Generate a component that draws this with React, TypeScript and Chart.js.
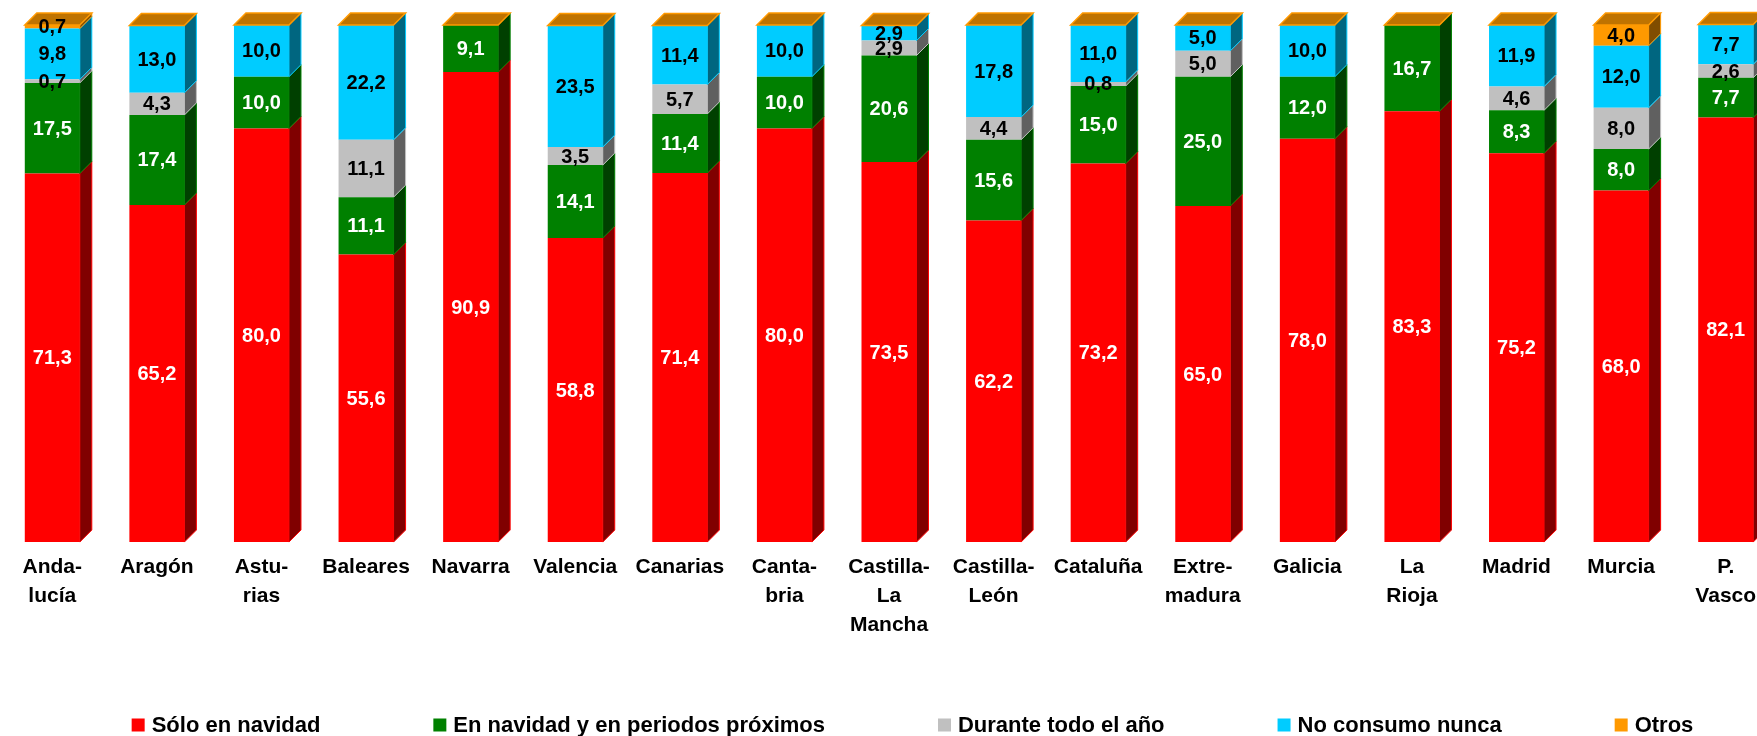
import React, { useEffect, useRef } from "react";
import { Chart, registerables } from "chart.js";

Chart.register(...registerables);

const categories: (string | string[])[] = [
  ["Anda-", "lucía"],
  "Aragón",
  ["Astu-", "rias"],
  "Baleares",
  "Navarra",
  "Valencia",
  "Canarias",
  ["Canta-", "bria"],
  ["Castilla-", "La", "Mancha"],
  ["Castilla-", "León"],
  "Cataluña",
  ["Extre-", "madura"],
  "Galicia",
  ["La", "Rioja"],
  "Madrid",
  "Murcia",
  ["P.", "Vasco"],
];

const soloNavidad = [71.3, 65.2, 80.0, 55.6, 90.9, 58.8, 71.4, 80.0, 73.5, 62.2, 73.2, 65.0, 78.0, 83.3, 75.2, 68.0, 82.1];
const navidadProximos = [17.5, 17.4, 10.0, 11.1, 9.1, 14.1, 11.4, 10.0, 20.6, 15.6, 15.0, 25.0, 12.0, 16.7, 8.3, 8.0, 7.7];
const todoElAno = [0.7, 4.3, 0, 11.1, 0, 3.5, 5.7, 0, 2.9, 4.4, 0.8, 5.0, 0, 0, 4.6, 8.0, 2.6];
const noConsumo = [9.8, 13.0, 10.0, 22.2, 0, 23.5, 11.4, 10.0, 2.9, 17.8, 11.0, 5.0, 10.0, 0, 11.9, 12.0, 7.7];
const otros = [0.7, 0, 0, 0, 0, 0, 0, 0, 0, 0, 0, 0, 0, 0, 0, 4.0, 0];

const seriesNames = [
  "Sólo en navidad",
  "En navidad y en periodos próximos",
  "Durante todo el año",
  "No consumo nunca",
  "Otros",
];
const seriesValues = [soloNavidad, navidadProximos, todoElAno, noConsumo, otros];

const frontColors = ["#FF0000", "#008000", "#C0C0C0", "#00CCFF", "#FF9900"];
const sideColors = ["#800000", "#004000", "#606060", "#006680", "#804D00"];
const topColors = ["#BF0000", "#006000", "#909090", "#0099BF", "#BF7300"];
const labelColors = ["#FFFFFF", "#FFFFFF", "#000000", "#000000", "#000000"];

const FONT = '"Liberation Sans", Arial, Helvetica, sans-serif';
const DEPTH_X = 12;
const DEPTH_Y = 12;

const fmt = (v: number) => v.toFixed(1).replace(".", ",");

const bar3dPlugin = {
  id: "bar3d",
  afterDatasetsDraw(chart: any) {
    const ctx: CanvasRenderingContext2D = chart.ctx;
    const nCat = chart.data.labels.length;
    const nSets = chart.data.datasets.length;
    ctx.save();
    ctx.lineWidth = 1;
    for (let c = 0; c < nCat; c++) {
      for (let d = 0; d < nSets; d++) {
        const meta = chart.getDatasetMeta(d);
        const el = meta.data[c];
        if (!el) continue;
        const p = el.getProps(["x", "y", "base", "width"], true);
        const right = p.x + p.width / 2;
        if (Math.abs(p.base - p.y) < 0.01) continue;
        ctx.beginPath();
        ctx.moveTo(right, p.y);
        ctx.lineTo(right + DEPTH_X, p.y - DEPTH_Y);
        ctx.lineTo(right + DEPTH_X, p.base - DEPTH_Y);
        ctx.lineTo(right, p.base);
        ctx.closePath();
        ctx.fillStyle = sideColors[d];
        ctx.fill();
        ctx.strokeStyle = frontColors[d];
        ctx.stroke();
      }
      const last = nSets - 1;
      const elTop = chart.getDatasetMeta(last).data[c];
      if (elTop) {
        const p = elTop.getProps(["x", "y", "base", "width"], true);
        const left = p.x - p.width / 2;
        const right = p.x + p.width / 2;
        ctx.beginPath();
        ctx.moveTo(left, p.y);
        ctx.lineTo(left + DEPTH_X, p.y - DEPTH_Y);
        ctx.lineTo(right + DEPTH_X, p.y - DEPTH_Y);
        ctx.lineTo(right, p.y);
        ctx.closePath();
        ctx.fillStyle = topColors[last];
        ctx.fill();
        ctx.strokeStyle = frontColors[last];
        ctx.lineWidth = 1.5;
        ctx.stroke();
        ctx.lineWidth = 1;
      }
    }
    ctx.font = `bold 20px ${FONT}`;
    ctx.textAlign = "center";
    ctx.textBaseline = "middle";
    for (let d = 0; d < nSets; d++) {
      const meta = chart.getDatasetMeta(d);
      const vals = chart.data.datasets[d].data;
      meta.data.forEach((el: any, i: number) => {
        const v = vals[i];
        if (!v) return;
        const p = el.getProps(["x", "y", "base"], true);
        ctx.fillStyle = labelColors[d];
        ctx.fillText(fmt(v), p.x, (p.y + p.base) / 2 + 1);
      });
    }
    ctx.restore();
  },
};

const legendPlugin = {
  id: "bottomLegend",
  afterDraw(chart: any) {
    const ctx: CanvasRenderingContext2D = chart.ctx;
    const box = 13;
    const boxGap = 7;
    const itemGap = 113;
    ctx.save();
    ctx.font = `bold 22px ${FONT}`;
    ctx.textBaseline = "middle";
    ctx.textAlign = "left";
    const items = chart.data.datasets.map((ds: any) => ({
      label: ds.label as string,
      color: ds.backgroundColor as string,
      w: ctx.measureText(ds.label).width,
    }));
    const total =
      items.reduce((s: number, it: any) => s + box + boxGap + it.w, 0) + itemGap * (items.length - 1);
    let x = chart.width / 2 - total / 2;
    const yc = chart.height - 11;
    items.forEach((it: any) => {
      ctx.fillStyle = it.color;
      ctx.fillRect(x, yc - box / 2, box, box);
      ctx.fillStyle = "#000000";
      ctx.fillText(it.label, x + box + boxGap, yc + 1);
      x += box + boxGap + it.w + itemGap;
    });
    ctx.restore();
  },
};

export default function App() {
  const canvasRef = useRef<HTMLCanvasElement | null>(null);

  useEffect(() => {
    if (!canvasRef.current) return;
    const chart = new Chart(canvasRef.current, {
      type: "bar",
      data: {
        labels: categories as any,
        datasets: seriesNames.map((name, i) => ({
          label: name,
          data: seriesValues[i],
          backgroundColor: frontColors[i],
          borderWidth: 0,
          barPercentage: 0.526,
          categoryPercentage: 1,
        })),
      },
      options: {
        responsive: false,
        animation: false,
        devicePixelRatio: 1,
        layout: { padding: { top: 25, bottom: 85, left: 0, right: 47 } },
        plugins: {
          legend: { display: false },
          tooltip: { enabled: false },
          title: { display: false },
        },
        scales: {
          x: {
            stacked: true,
            offset: true,
            grid: { display: false, drawTicks: false },
            border: { display: false },
            ticks: {
              color: "#000000",
              padding: 11,
              maxRotation: 0,
              minRotation: 0,
              autoSkip: false,
              font: { family: FONT, size: 21, weight: "bold", lineHeight: 1.38 },
            },
          },
          y: {
            stacked: true,
            display: false,
            min: 0,
            max: 100,
          },
        },
      },
      plugins: [bar3dPlugin, legendPlugin],
    });
    return () => chart.destroy();
  }, []);

  return (
    <div
      style={{
        position: "absolute",
        left: 0,
        top: 0,
        width: 1757,
        height: 736,
        overflow: "hidden",
        background: "#FFFFFF",
      }}
    >
      <canvas ref={canvasRef} width={1825} height={736} style={{ display: "block" }} />
    </div>
  );
}
